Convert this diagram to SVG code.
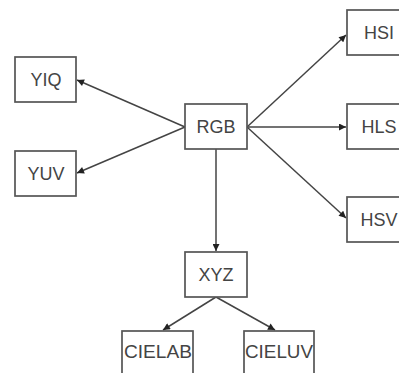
<svg xmlns="http://www.w3.org/2000/svg" width="399" height="373" viewBox="0 0 399 373">
<style>
.n rect{fill:#fff;stroke:#555;stroke-width:1.7}
.n text{font-family:"Liberation Sans",Arial,sans-serif;font-size:18px;fill:#444;text-anchor:middle}
.e line{stroke:#444;stroke-width:1.5;marker-end:url(#a)}
</style>
<defs>
<marker id="a" viewBox="0 0 10 10" refX="10" refY="5" markerWidth="8" markerHeight="7" markerUnits="userSpaceOnUse" orient="auto"><path d="M0,0L10,5L0,10z" fill="#222"/></marker>
</defs>
<rect width="399" height="373" fill="#fff"/>
<g id="edges" class="e">
<line x1="185" y1="127" x2="77" y2="80"/>
<line x1="185" y1="127" x2="77" y2="173"/>
<line x1="247" y1="127" x2="346" y2="35"/>
<line x1="247" y1="127" x2="346" y2="127"/>
<line x1="247" y1="127" x2="346" y2="218"/>
<line x1="216" y1="149" x2="216" y2="251"/>
<line x1="216" y1="297" x2="163" y2="330"/>
<line x1="216" y1="297" x2="275" y2="330"/>
</g>
<g id="YIQ" class="n"><rect x="15" y="57" width="61" height="45"/><text x="46" y="86">YIQ</text></g>
<g id="YUV" class="n"><rect x="15" y="151" width="61" height="45"/><text x="46" y="180">YUV</text></g>
<g id="RGB" class="n"><rect x="185" y="104" width="62" height="45"/><text x="216" y="133">RGB</text></g>
<g id="HSI" class="n"><rect x="347" y="10" width="62" height="45"/><text x="379" y="39">HSI</text></g>
<g id="HLS" class="n"><rect x="347" y="104" width="62" height="45"/><text x="379" y="133">HLS</text></g>
<g id="HSV" class="n"><rect x="347" y="197" width="62" height="45"/><text x="379" y="226">HSV</text></g>
<g id="XYZ" class="n"><rect x="185" y="252" width="62" height="45"/><text x="216" y="281">XYZ</text></g>
<g id="CIELAB" class="n"><rect x="122" y="331" width="71" height="50"/><text x="158" y="358" textLength="68" lengthAdjust="spacingAndGlyphs">CIELAB</text></g>
<g id="CIELUV" class="n"><rect x="244" y="331" width="70" height="50"/><text x="279" y="358" textLength="68" lengthAdjust="spacingAndGlyphs">CIELUV</text></g>
</svg>
